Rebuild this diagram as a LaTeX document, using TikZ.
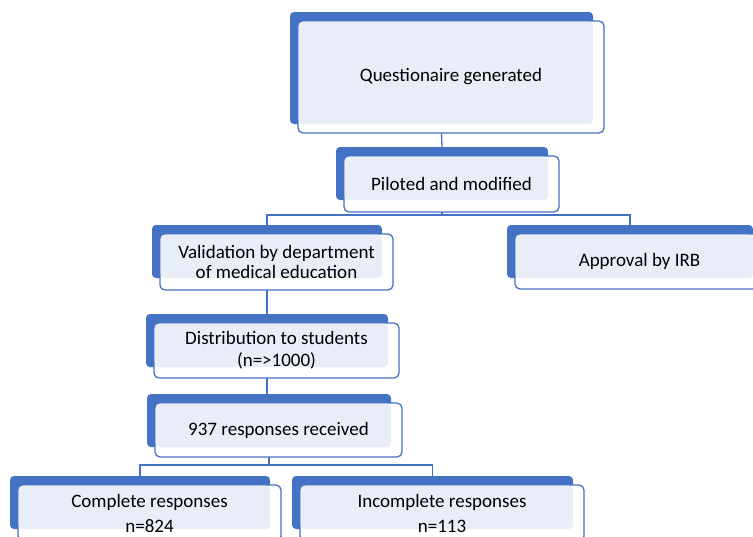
\documentclass[tikz,border=0pt]{standalone}
\usepackage{fontspec}
\setmainfont{Carlito}
\usepackage{tikz}
\usetikzlibrary{calc}
\definecolor{boxblue}{HTML}{4472C4}
\definecolor{boxlight}{HTML}{E9EDF7}
\tikzset{
  backbox/.style={fill=boxblue, rounded corners=4pt, inner sep=0pt, outer sep=0pt, anchor=north west},
  frontbox/.style={draw=boxblue, line width=1.3pt, fill=white, rounded corners=5pt, inner sep=0pt, outer sep=0pt, anchor=north west},
  boxtext/.style={align=center, font=\fontsize{19}{20}\selectfont},
  link/.style={draw=boxblue, line width=1.3pt}
}
% name, x, y, back width, back height, front height, text
\newcommand\flowbox[7]{
  \node[backbox, minimum width=#4pt, minimum height=#5pt] (#1) at (#2,#3) {};
  \node[frontbox, minimum width=#4pt+3pt, minimum height=#6pt] (#1f) at ($(#1.north west)+(8,9)$) {};
  \fill[boxlight, rounded corners=4pt] ($(#1f.north west)+(0.6,0.6)$) rectangle (#1.south east);
  \node[boxtext] (#1t) at (#1f.center) {#7};
}

\begin{document}
\begin{tikzpicture}[x=1pt,y=-1pt]
  \useasboundingbox (0,0) rectangle (753,536);
  \clip (0,0) rectangle (753,536);

  \flowbox{quest}{290}{12}{303}{112}{112}{Questionaire generated}
  \flowbox{pilot}{336}{147}{212}{53}{56}{Piloted and modified}
  \flowbox{valid}{152}{225}{230}{53}{56}{Validation by department\\of medical education}
  \flowbox{irb}{507}{225}{246}{53}{55}{Approval by IRB}
  \flowbox{distr}{146}{314}{242}{53}{55}{Distribution to students\\[2pt](n=>1000)}
  \flowbox{resp}{147}{394}{244}{53}{54}{937 responses received}
  \flowbox{compl}{10}{476}{260}{53}{56}{Complete responses\\[5pt]n=824}
  \flowbox{incompl}{292}{476}{281}{53}{56}{Incomplete responses\\[5pt]n=113}

  \coordinate (bus1) at ($(pilotf.south)+(0,3)$);
  \coordinate (bus2) at ($(respf.south)+(0,8)$);

  \draw[link] (quest.south |- questf.south) -- (pilot.north);
  \draw[link] (pilot.south |- pilotf.south) -- (pilot.south |- bus1);
  \draw[link] (valid.north) -- (valid.north |- bus1) -- (irb.north |- bus1) -- (irb.north);
  \draw[link] (valid.south |- validf.south) -- (distr.north);
  \draw[link] (distr.south |- distrf.south) -- (distr.south |- resp.north);
  \draw[link] (resp.south |- respf.south) -- (resp.south |- bus2);
  \draw[link] (compl.north) -- (compl.north |- bus2) -- (incompl.north |- bus2) -- (incompl.north);
\end{tikzpicture}
\end{document}
